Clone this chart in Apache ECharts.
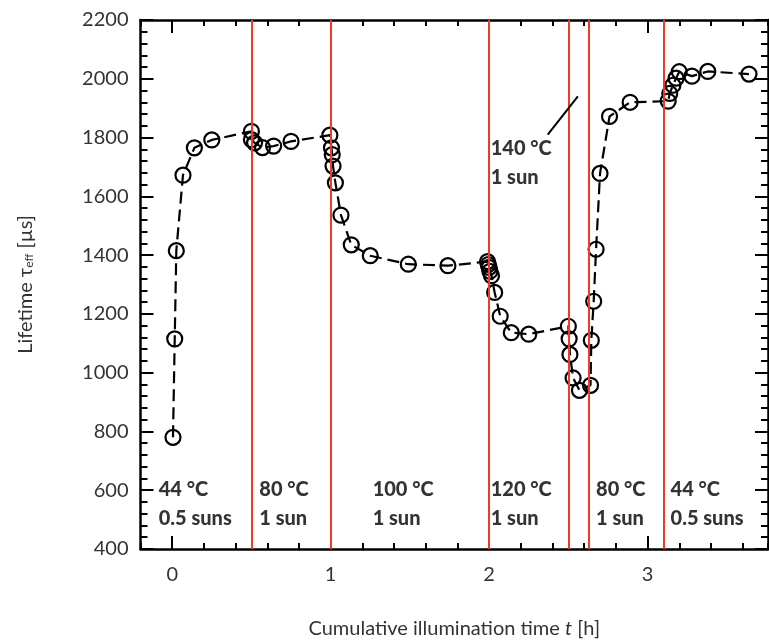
<!DOCTYPE html>
<html>
<head>
<meta charset="utf-8">
<script src="https://cdn.jsdelivr.net/npm/echarts@6/dist/echarts.min.js"></script>
<style>html,body{margin:0;padding:0;background:#fff}#c{width:769px;height:644px}</style>
</head>
<body>
<div id="c"></div>
<script>
// Cumulative illumination time [h]
const timeH = [0.005, 0.016, 0.026, 0.068, 0.14, 0.25,
  0.50, 0.50, 0.52, 0.57, 0.64, 0.75,
  0.995, 1.005, 1.01, 1.015, 1.03, 1.065, 1.13, 1.25, 1.49, 1.74,
  1.99, 1.995, 2.0, 2.005, 2.015, 2.035, 2.07, 2.14, 2.25,
  2.50, 2.505, 2.51, 2.53, 2.57,
  2.64, 2.645, 2.66, 2.675, 2.70, 2.76, 2.89,
  3.13, 3.14, 3.16, 3.18, 3.20, 3.28, 3.38, 3.64];
// Effective lifetime [µs]
const lifetimeUs = [780, 1115, 1415, 1672, 1765, 1792,
  1821, 1793, 1782, 1766, 1771, 1787,
  1808, 1765, 1742, 1703, 1646, 1536, 1435, 1398, 1369, 1364,
  1378, 1368, 1358, 1345, 1330, 1273, 1192, 1136, 1131,
  1158, 1115, 1062, 982, 940,
  957, 1110, 1243, 1420, 1678, 1872, 1920,
  1924, 1950, 1978, 2002, 2024, 2009, 2025, 2016];
// Phase boundaries [h]
const boundaries = [0.5, 1.0, 2.0, 2.5, 2.63, 3.1];
// Phase annotations
const annotText = ['44 °C\n0.5 suns', '80 °C\n1 sun', '100 °C\n1 sun', '120 °C\n1 sun', '80 °C\n1 sun', '44 °C\n0.5 suns', '140 °C\n1 sun'];
const annotX = [-0.085, 0.55, 1.265, 2.01, 2.675, 3.145, 2.01];
const annotY = [552, 552, 552, 552, 552, 552, 1712];
// Leader line for 140 °C label
const leaderX = [2.37, 2.56];
const leaderY = [1810, 1940];
const xTickLabels = [0, 1, 2, 3];

const FONT = 'Lato';
const chart = echarts.init(document.getElementById('c'), null, {renderer: 'canvas'});
const axisLineStyle = {color: '#000', width: 2.5};
const tickStyle = {color: '#000', width: 2};
const xBase = {type: 'value', min: -0.2, max: 3.76, splitLine: {show: false}};

chart.setOption({
  backgroundColor: '#fff',
  animation: false,
  grid: {left: 140.5, top: 20, right: 1, bottom: 90, containLabel: false},
  xAxis: [
    Object.assign({}, xBase, {
      position: 'bottom', interval: 0.2,
      axisLine: {onZero: false, lineStyle: axisLineStyle},
      axisTick: {inside: true, length: 6, lineStyle: tickStyle},
      axisLabel: {customValues: xTickLabels, color: '#333', fontFamily: FONT, fontSize: 20, margin: 16},
      name: '{n|Cumulative illumination time }{i|t}{n| [h]}',
      nameLocation: 'middle', nameGap: 70,
      nameTextStyle: {rich: {n: {fontFamily: FONT, fontSize: 20, color: '#333'}, i: {fontFamily: FONT, fontSize: 20, fontStyle: 'italic', color: '#333'}}}
    }),
    Object.assign({}, xBase, {
      position: 'bottom',
      axisLine: {show: false, onZero: false},
      axisTick: {inside: true, length: 13, customValues: xTickLabels, lineStyle: tickStyle},
      axisLabel: {show: false}
    }),
    Object.assign({}, xBase, {
      position: 'top', interval: 0.2,
      axisLine: {onZero: false, lineStyle: axisLineStyle},
      axisTick: {inside: true, length: 6, lineStyle: tickStyle},
      axisLabel: {show: false}
    }),
    Object.assign({}, xBase, {
      position: 'top',
      axisLine: {show: false, onZero: false},
      axisTick: {inside: true, length: 13, customValues: xTickLabels, lineStyle: tickStyle},
      axisLabel: {show: false}
    })
  ],
  yAxis: [
    {
      type: 'value', position: 'left', min: 400, max: 2200, interval: 200,
      axisLine: {onZero: false, lineStyle: axisLineStyle},
      axisTick: {inside: true, length: 13, lineStyle: tickStyle},
      minorTick: {show: true, splitNumber: 5, length: 7, lineStyle: tickStyle},
      splitLine: {show: false},
      axisLabel: {color: '#333', fontFamily: FONT, fontSize: 20, margin: 12, formatter: v => String(v)},
      name: '{n|Lifetime τ}{s|eff}{n| [µs]}',
      nameLocation: 'middle', nameGap: 105, nameRotate: 90,
      nameTextStyle: {rich: {n: {fontFamily: FONT, fontSize: 20, color: '#333'}, s: {fontFamily: FONT, fontSize: 12, color: '#333', verticalAlign: 'bottom', padding: [8, 0, 0, 0]}}}
    },
    {
      type: 'value', position: 'right', min: 400, max: 2200, interval: 200,
      axisLine: {onZero: false, lineStyle: axisLineStyle},
      axisTick: {inside: true, length: 13, lineStyle: tickStyle},
      minorTick: {show: true, splitNumber: 5, length: 7, lineStyle: tickStyle},
      splitLine: {show: false},
      axisLabel: {show: false}
    }
  ],
  series: [
    {
      type: 'line', xAxisIndex: 0, yAxisIndex: 0, z: 1,
      data: [], silent: true,
      markLine: {
        silent: true, symbol: ['none', 'none'], label: {show: false},
        lineStyle: {color: '#ee3a28', width: 2, type: 'solid'},
        data: boundaries.map(v => ({xAxis: v}))
      }
    },
    {
      type: 'line', xAxisIndex: 0, yAxisIndex: 0, z: 3,
      data: timeH.map((t, i) => [t, lifetimeUs[i]]),
      symbol: 'circle', symbolSize: 15,
      itemStyle: {color: 'rgba(0,0,0,0)', borderColor: '#000', borderWidth: 2.2},
      lineStyle: {color: '#000', width: 2.2, type: [12, 6]},
      markLine: {
        silent: true, symbol: ['none', 'none'], label: {show: false},
        lineStyle: {color: '#000', width: 2, type: 'solid'},
        data: [[{coord: [leaderX[0], leaderY[0]]}, {coord: [leaderX[1], leaderY[1]]}]]
      }
    },
    {
      type: 'scatter', xAxisIndex: 0, yAxisIndex: 0, z: 4,
      symbolSize: 0,
      data: annotX.map((x, i) => ({value: [x, annotY[i]], name: annotText[i]})),
      label: {
        show: true, position: 'inside', align: 'left', verticalAlign: 'middle',
        formatter: p => p.name,
        fontFamily: FONT, fontWeight: 900, fontSize: 20, lineHeight: 29, color: '#000'
      }
    }
  ]
});
</script>
</body>
</html>
